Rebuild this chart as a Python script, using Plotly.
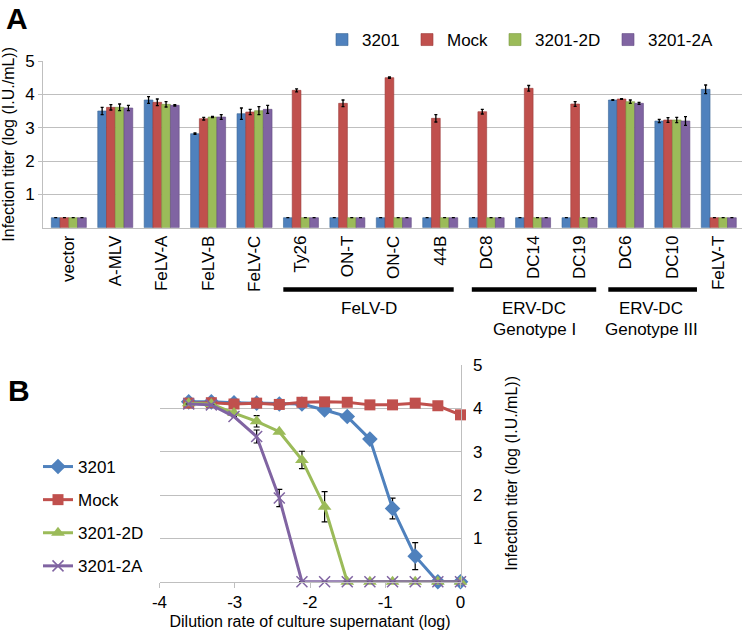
import plotly.graph_objects as go

# ---------------- Panel A data ----------------
categories = ["vector", "A-MLV", "FeLV-A", "FeLV-B", "FeLV-C", "Ty26", "ON-T", "ON-C",
              "44B", "DC8", "DC14", "DC19", "DC6", "DC10", "FeLV-T"]
a_3201 = [0.3, 3.50, 3.83, 2.82, 3.42, 0.3, 0.3, 0.3, 0.3, 0.3, 0.3, 0.3, 3.83, 3.20, 4.15]
a_mock = [0.3, 3.61, 3.76, 3.27, 3.47, 4.12, 3.73, 4.50, 3.28, 3.48, 4.18, 3.71, 3.86, 3.23, 0.3]
a_2d = [0.3, 3.61, 3.70, 3.32, 3.51, 0.3, 0.3, 0.3, 0.3, 0.3, 0.3, 0.3, 3.78, 3.23, 0.3]
a_2a = [0.3, 3.59, 3.67, 3.32, 3.55, 0.3, 0.3, 0.3, 0.3, 0.3, 0.3, 0.3, 3.73, 3.20, 0.3]
e_3201 = [0, 0.11, 0.10, 0.02, 0.17, 0, 0, 0, 0, 0, 0, 0, 0.01, 0.05, 0.13]
e_mock = [0, 0.08, 0.10, 0.04, 0.08, 0.045, 0.10, 0.02, 0.11, 0.07, 0.085, 0.07, 0.01, 0.07, 0]
e_2d = [0, 0.10, 0.08, 0.02, 0.12, 0, 0, 0, 0, 0, 0, 0, 0.05, 0.08, 0]
e_2a = [0, 0.08, 0.02, 0.07, 0.12, 0, 0, 0, 0, 0, 0, 0, 0.03, 0.13, 0]
a_yticks = [1, 2, 3, 4, 5]

# ---------------- Panel B data ----------------
dilution = [-3.612, -3.311, -3.010, -2.709, -2.408, -2.107, -1.806, -1.505, -1.204, -0.903, -0.602, -0.301, 0.0]
b_3201 = [4.15, 4.15, 4.13, 4.12, 4.10, 4.10, 3.96, 3.81, 3.29, 1.69, 0.59, 0.0, 0.0]
b_mock = [4.12, 4.13, 4.10, 4.12, 4.09, 4.14, 4.15, 4.14, 4.08, 4.08, 4.12, 4.06, 3.85]
b_2d = [4.12, 4.10, 3.89, 3.70, 3.46, 2.81, 1.73, 0.0, 0.0, 0.0, 0.0, 0.0, 0.0]
b_2a = [4.10, 4.08, 3.81, 3.35, 1.93, 0.0, 0.0, 0.0, 0.0, 0.0, 0.0, 0.0, 0.0]
be_3201 = [0, 0, 0, 0, 0, 0, 0, 0, 0, 0.24, 0.31, 0, 0]
be_mock = [0, 0, 0, 0, 0, 0, 0, 0, 0, 0, 0, 0, 0]
be_2d = [0, 0, 0, 0.13, 0, 0.20, 0.35, 0, 0, 0, 0, 0, 0]
be_2a = [0, 0, 0, 0.15, 0.20, 0, 0, 0, 0, 0, 0, 0, 0]
b_xticks = [-4, -3, -2, -1, 0]
b_xticktext = ["-4", "-3", "-2", "-1", "0"]
b_yticks = [1, 2, 3, 4, 5]

series_names = ["3201", "Mock", "3201-2D", "3201-2A"]
colors = ["#4F81BD", "#C0504D", "#9BBB59", "#8064A2"]
edges = ["#3A6796", "#9C3B39", "#7A9842", "#634C83"]

W, H = 742, 632
FONT = "Liberation Sans, Arial, sans-serif"
GRID = "#BFBFBF"


def px(x):
    return x / W


def py(y):
    return 1 - y / H


fig = go.Figure()

a_vals = [a_3201, a_mock, a_2d, a_2a]
a_errs = [e_3201, e_mock, e_2d, e_2a]
leg_widths = [40, 43, 68, 70]
for name, vals, errs, c, ec, lw in zip(series_names, a_vals, a_errs, colors, edges, leg_widths):
    fig.add_trace(go.Bar(
        x=categories, y=vals, name=name,
        marker=dict(color=c, line=dict(color=ec, width=0.6)),
        error_y=dict(type="data", array=errs, color="black", thickness=1.3, width=1.5),
        xaxis="x", yaxis="y", legend="legend", legendwidth=lw,
    ))

b_vals = [b_3201, b_mock, b_2d, b_2a]
b_errs = [be_3201, be_mock, be_2d, be_2a]
markers = [
    dict(symbol="diamond", size=12),
    dict(symbol="square", size=11),
    dict(symbol="triangle-up", size=12),
    dict(symbol="x-thin", size=11),
]
for i, (name, vals, errs, c) in enumerate(zip(series_names, b_vals, b_errs, colors)):
    m = dict(markers[i])
    m["color"] = c
    if m["symbol"] == "x-thin":
        m["line"] = dict(color=c, width=1.5)
    fig.add_trace(go.Scatter(
        x=dilution, y=vals, name=name, mode="lines+markers",
        line=dict(color=c, width=3),
        marker=m,
        error_y=dict(type="data", array=errs, color="black", thickness=1.2, width=3),
        xaxis="x2", yaxis="y2", legend="legend2", legendgroup="g%d" % i,
        cliponaxis=False,
    ))

fig.update_layout(
    template="none",
    width=W, height=H,
    margin=dict(l=0, r=0, t=0, b=0, autoexpand=False),
    paper_bgcolor="white", plot_bgcolor="white",
    font=dict(family=FONT, size=17, color="black"),
    barmode="group", bargap=0.246, bargroupgap=0,
    showlegend=True,
    xaxis=dict(
        domain=[px(43.3), 1.0], anchor="y", automargin=False,
        type="category", range=[-0.55, 14.5],
        showline=True, linecolor=GRID, linewidth=1.2,
        ticks="", tickangle=-90, tickfont=dict(size=17),
        showgrid=False, zeroline=False,
    ),
    yaxis=dict(
        domain=[py(227.7), py(61)], anchor="x", automargin=False,
        range=[0, 5], tickvals=a_yticks,
        showline=True, linecolor=GRID, linewidth=1.2,
        ticks="outside", ticklen=4, tickcolor=GRID,
        showgrid=True, gridcolor=GRID, gridwidth=1.2, zeroline=False,
        tickfont=dict(size=17),
        title=dict(text="Infection titer (log (I.U./mL))", font=dict(size=16), standoff=8),
    ),
    xaxis2=dict(
        domain=[px(159.5), px(460.5)], anchor="y2", automargin=False,
        range=[-4, 0], tickvals=b_xticks, ticktext=b_xticktext,
        showline=True, linecolor=GRID, linewidth=1.2,
        ticks="outside", ticklen=5, tickcolor=GRID,
        showgrid=False, zeroline=False, tickfont=dict(size=17),
        title=dict(text="Dilution rate of culture supernatant (log)", font=dict(size=16), standoff=4),
    ),
    yaxis2=dict(
        domain=[py(581.7), py(365)], anchor="x2", side="right", automargin=False,
        range=[0, 5], tickvals=b_yticks,
        showline=True, linecolor=GRID, linewidth=1.2,
        ticks="", showgrid=True, gridcolor=GRID, gridwidth=1.2, zeroline=False,
        tickfont=dict(size=17), ticklabelstandoff=8,
        title=dict(text="Infection titer (log (I.U./mL))", font=dict(size=16), standoff=24),
    ),
    legend=dict(
        orientation="h", x=px(322), xanchor="left", y=py(40), yanchor="middle",
        font=dict(size=17), bgcolor="rgba(0,0,0,0)", itemclick=False,
    ),
    legend2=dict(
        orientation="v", x=px(38), xanchor="left", y=py(449), yanchor="top",
        font=dict(size=17), bgcolor="rgba(0,0,0,0)", tracegroupgap=8,
    ),
)

# group brackets under panel A categories
groups = [
    (4.62, 8.29, 369, ["FeLV-D"]),
    (8.68, 11.36, 534, ["ERV-DC", "Genotype I"]),
    (11.62, 13.53, 651, ["ERV-DC", "Genotype III"]),
]
for x0, x1, cx, lines in groups:
    fig.add_shape(type="line", xref="x", yref="paper", x0=x0, x1=x1,
                  y0=py(289.5), y1=py(289.5), line=dict(color="black", width=4.5))
    for k, t in enumerate(lines):
        fig.add_annotation(text=t, xref="paper", yref="paper", x=px(cx), y=py(309 + 20 * k),
                           showarrow=False, xanchor="center", yanchor="middle",
                           font=dict(size=17))

fig.add_annotation(text="<b>A</b>", xref="paper", yref="paper", x=px(4), y=py(18),
                   showarrow=False, xanchor="left", yanchor="middle", font=dict(size=30))
fig.add_annotation(text="<b>B</b>", xref="paper", yref="paper", x=px(6), y=py(390),
                   showarrow=False, xanchor="left", yanchor="middle", font=dict(size=30))

fig.write_html("out.html", config={"displayModeBar": False},
               post_script="document.body.style.margin='0px';document.body.style.padding='0px';")
